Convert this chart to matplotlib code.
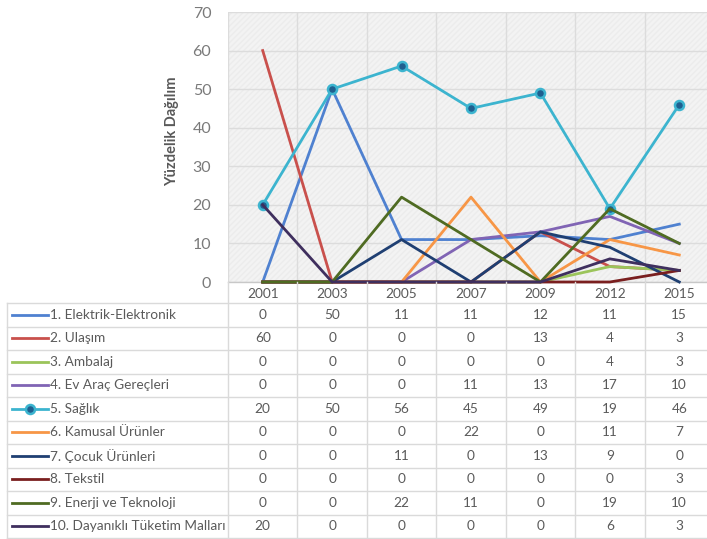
import numpy as np
import matplotlib.pyplot as plt

plt.rcParams['font.family'] = ['Lato', 'DejaVu Sans']

years = ['2001', '2003', '2005', '2007', '2009', '2012', '2015']
sectors = ['1. Elektrik-Elektronik', '2. Ulaşım', '3. Ambalaj', '4. Ev Araç Gereçleri',
           '5. Sağlık', '6. Kamusal Ürünler', '7. Çocuk Ürünleri', '8. Tekstil',
           '9. Enerji ve Teknoloji', '10. Dayanıklı Tüketim Malları']

elektrik = [0, 50, 11, 11, 12, 11, 15]
ulasim = [60, 0, 0, 0, 13, 4, 3]
ambalaj = [0, 0, 0, 0, 0, 4, 3]
ev_arac = [0, 0, 0, 11, 13, 17, 10]
saglik = [20, 50, 56, 45, 49, 19, 46]
kamusal = [0, 0, 0, 22, 0, 11, 7]
cocuk = [0, 0, 11, 0, 13, 9, 0]
tekstil = [0, 0, 0, 0, 0, 0, 3]
enerji = [0, 0, 22, 11, 0, 19, 10]
dayanikli = [20, 0, 0, 0, 0, 6, 3]

series = [elektrik, ulasim, ambalaj, ev_arac, saglik, kamusal, cocuk, tekstil, enerji, dayanikli]
colors = ['#4f81d0', '#c9504c', '#9bc45a', '#8064b4', '#3cb4cf', '#f79646',
          '#1f3f72', '#7a1f1f', '#4f6b22', '#3f2f5e']

W, H = 707, 539
fig = plt.figure(figsize=(W / 100, H / 100), dpi=100)

# chart area (the last column runs past the right edge of the page)
x0, col_w = 228, 69.43
top, base = 12, 282
ax = fig.add_axes([x0 / W, 1 - base / H, 7 * col_w / W, (base - top) / H])
ax.set_facecolor('#f3f3f3')
ax.patch.set_hatch('//////')
ax.patch.set_edgecolor('#ececec')
ax.patch.set_linewidth(0)

x = np.arange(len(years))
for i, (vals, c) in enumerate(zip(series, colors)):
    if i == 4:
        ax.plot(x, vals, color=c, lw=2.0, marker='o', ms=6.5,
                mfc='#1f5f8f', mec=c, mew=1.8, zorder=3 + i, clip_on=False)
    else:
        ax.plot(x, vals, color=c, lw=2.0, zorder=3 + i, clip_on=False)

ax.set_xlim(-0.5, len(years) - 0.5)
ax.set_ylim(0, 70)
ax.set_yticks(range(0, 71, 10))
ax.set_xticks([])
ax.set_xticks(np.arange(-0.5, len(years)), minor=True)
ax.grid(axis='y', which='major', color='#dcdcdc', lw=1.0)
ax.grid(axis='x', which='minor', color='#dcdcdc', lw=1.0)
ax.set_axisbelow(True)
ax.tick_params(axis='y', length=0, pad=12, labelsize=11.5, labelcolor='#7a7a7a')
ax.tick_params(axis='x', which='both', length=0)
for s in ['top', 'right', 'left']:
    ax.spines[s].set_visible(False)
ax.spines['bottom'].set_color('#c8c8c8')
ax.spines['bottom'].set_linewidth(1.0)

fig.text(172 / W, 1 - 131 / H, 'Yüzdelik Dağılım', rotation=90, ha='center', va='center',
         fontsize=10.5, fontweight='bold', color='#595959')

# data table under the chart, in page pixels
tab = fig.add_axes([0, 0, 1, 1])
tab.set_xlim(0, W)
tab.set_ylim(H, 0)
tab.axis('off')

grid_c = '#dadada'
left = 7
row_h = 23.5
head_bot = 303
right = x0 + 7 * col_w
rows_y = [head_bot + k * row_h for k in range(len(sectors) + 1)]

for yy in rows_y:
    tab.plot([left, right], [yy, yy], color=grid_c, lw=1.0)
tab.plot([left, left], [head_bot, rows_y[-1]], color=grid_c, lw=1.0)
for j in range(len(years) + 1):
    xx = x0 + j * col_w
    tab.plot([xx, xx], [base, rows_y[-1]], color=grid_c, lw=1.0)

text_c = '#5a5a5a'
for j, yr in enumerate(years):
    tab.text(x0 + (j + 0.5) * col_w, (base + head_bot) / 2 + 1, yr, ha='center', va='center',
             fontsize=9.8, color=text_c)

for k, (name, vals, c) in enumerate(zip(sectors, series, colors)):
    yc = head_bot + (k + 0.5) * row_h
    tab.plot([12, 48], [yc, yc], color=c, lw=2.0)
    if k == 4:
        tab.plot([30], [yc], marker='o', ms=6.5, mfc='#1f5f8f', mec=c, mew=1.8)
    tab.text(50, yc, name, ha='left', va='center', fontsize=9.8, color=text_c)
    for j, v in enumerate(vals):
        tab.text(x0 + (j + 0.5) * col_w, yc, str(v), ha='center', va='center',
                 fontsize=9.8, color=text_c)

fig.savefig('out.png', dpi=100)
